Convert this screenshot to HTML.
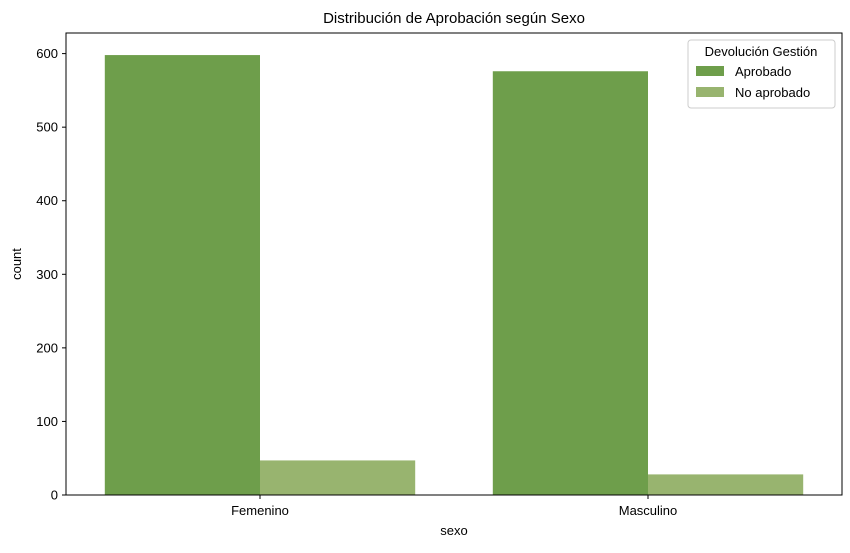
<!DOCTYPE html>
<html><head><meta charset="utf-8"><style>
body{margin:0;background:#fff}
svg text{font-family:"Liberation Sans","DejaVu Sans",sans-serif;fill:#000}
</style></head><body>
<svg width="850" height="548" viewBox="0 0 850 548">
<g id="plot"></g>
</svg>
<script>
const categories=["Femenino","Masculino"];
const seriesNames=["Aprobado","No aprobado"];
const aprobado=[598,576];
const noAprobado=[47,28];
const yTicks=[0,100,200,300,400,500,600];
const colors=["#6e9e4b","#98b46f"];
const L=66,R=842,T=33,B=495,yMax=628;
const y=v=>B-(v/yMax)*(B-T);
const band=(R-L)/categories.length;
const cx=i=>L+band*(i+0.5);
const bw=band*0.8/2;
const svg=document.querySelector('svg');
const NS="http://www.w3.org/2000/svg";
function mk(t,a,p){const e=document.createElementNS(NS,t);for(const k in a)e.setAttribute(k,a[k]);(p||svg).appendChild(e);return e;}
const vals=[aprobado,noAprobado];
vals.forEach((s,si)=>s.forEach((v,i)=>{
 const r=mk('rect',{x:cx(i)-bw+si*bw,y:y(v),width:bw,height:B-y(v),fill:colors[si]});
 
 
}));
const ax=mk('rect',{x:L,y:T,width:R-L,height:B-T,fill:'none',stroke:'#000','stroke-width':1});


yTicks.forEach(t=>{
 mk('line',{x1:L-4,x2:L,y1:y(t),y2:y(t),stroke:'#000'});
 const tx=mk('text',{x:L-8,y:y(t)+4.5,'text-anchor':'end','font-size':13});
 tx.textContent=t;
 
 
});
categories.forEach((c,i)=>{
 mk('line',{x1:cx(i),x2:cx(i),y1:B,y2:B+4,stroke:'#000'});
 const tx=mk('text',{x:cx(i),y:B+20,'text-anchor':'middle','font-size':13});
 tx.textContent=c;
 
 
});
let t=mk('text',{x:(L+R)/2,y:23,'text-anchor':'middle','font-size':15});t.textContent='Distribución de Aprobación según Sexo';


t=mk('text',{x:(L+R)/2,y:535,'text-anchor':'middle','font-size':13});t.textContent='sexo';


t=mk('text',{x:21,y:(T+B)/2,'text-anchor':'middle','font-size':13,transform:'rotate(-90 21 '+((T+B)/2)+')'});t.textContent='count';


const lg=mk('g',{});


mk('rect',{x:688,y:40,width:147,height:68,rx:3,fill:'#fff',stroke:'#ccc'},lg);
t=mk('text',{x:761,y:56,'text-anchor':'middle','font-size':13},lg);t.textContent='Devolución Gestión';
seriesNames.forEach((n,i)=>{
 const g=mk('g',{},lg);
 
 
 mk('rect',{x:696,y:66+i*21,width:28,height:10,fill:colors[i]},g);
 const tx=mk('text',{x:735,y:76+i*21,'font-size':13},g);tx.textContent=n;
});
</script>
</body></html>
